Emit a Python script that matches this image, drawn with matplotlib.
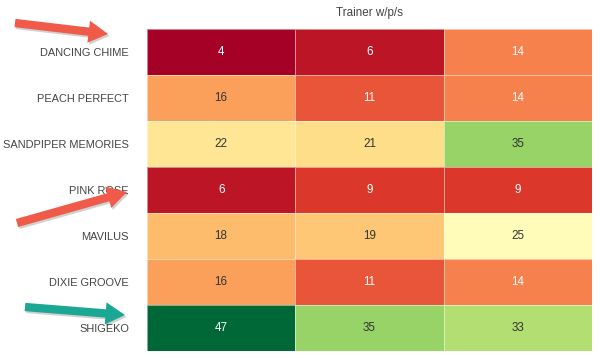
import matplotlib
matplotlib.use("Agg")
import matplotlib.pyplot as plt
import numpy as np
from matplotlib.patches import FancyArrowPatch

horses = ["DANCING CHIME", "PEACH PERFECT", "SANDPIPER MEMORIES", "PINK ROSE",
          "MAVILUS", "DIXIE GROOVE", "SHIGEKO"]
win = [4, 16, 22, 6, 18, 16, 47]
place = [6, 11, 21, 9, 19, 11, 35]
show = [14, 14, 35, 9, 25, 14, 33]
title = "Trainer w/p/s"

data = np.array([win, place, show]).T

plt.rcParams['font.family'] = ['Liberation Sans', 'DejaVu Sans']
fig = plt.figure(figsize=(6, 3.58), dpi=100)
ax = fig.add_axes([0.245, 0.0196, 0.7417, 0.8994])
cmap = plt.get_cmap("RdYlGn")
ax.pcolormesh(data, cmap=cmap, vmin=4, vmax=47, edgecolor=(1, 1, 1, 0.5), linewidth=0.6)
ax.set_xlim(0, 3)
ax.set_ylim(len(horses), 0)
for i in range(data.shape[0]):
    for j in range(data.shape[1]):
        v = data[i, j]
        c = "white" if (v < 15 or v > 40) else "#333333"
        ax.text(j + 0.5, i + 0.5, str(v), ha="center", va="center", fontsize=8.4, color=c)
ax.set_yticks(np.arange(len(horses)) + 0.5)
ax.set_yticklabels(horses, fontsize=7.9, color="#444444")
ax.tick_params(axis="y", length=0, pad=13)
ax.set_xticks([])
for s in ax.spines.values():
    s.set_visible(False)
ax.set_title(title, fontsize=8.4, color="#444444", pad=9)

def arrow(x0, y0, x1, y1, color):
    W, H = 600, 358
    for dx, dy, col, z in [(1.5, 2, (0, 0, 0, 0.18), 5), (0, 0, color, 6)]:
        p = FancyArrowPatch(((x0 + dx) / W, 1 - (y0 + dy) / H), ((x1 + dx) / W, 1 - (y1 + dy) / H),
                            transform=fig.transFigure,
                            arrowstyle="simple,head_width=16,head_length=14,tail_width=6",
                            color=col, lw=0, zorder=z, shrinkA=0, shrinkB=0)
        fig.patches.append(p)

arrow(15, 23, 108, 34, "#f05a48")
arrow(17, 223, 127, 192, "#f05a48")
arrow(25, 307, 125, 315, "#1aa894")

fig.savefig("out.png", dpi=100)
